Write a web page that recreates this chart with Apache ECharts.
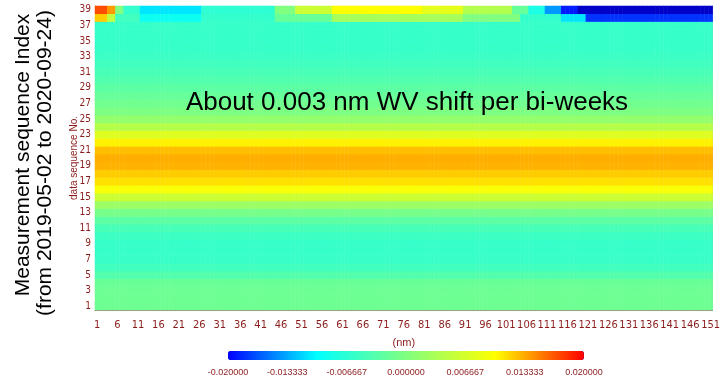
<!DOCTYPE html>
<html>
<head>
<meta charset="utf-8">
<script src="https://cdn.jsdelivr.net/npm/echarts@6/dist/echarts.min.js"></script>
<style>
html, body { margin: 0; padding: 0; background: #fff; }
#main { width: 723px; height: 381px; }
</style>
</head>
<body>
<div id="main"></div>
<script>
// axis categories: wavelength column no. (x) and data sequence no. (y)
var xCount = 151;
var yCount = 39;
var xCats = [];
for (var i = 1; i <= xCount; i++) xCats.push(String(i));
var yCats = [];
for (var j = 1; j <= yCount; j++) yCats.push(String(j));

// value of each row (1..39), same along x
var rowBase = [
  -0.0014, -0.0014, -0.0015, -0.0018, -0.0035, -0.0050, -0.0056, -0.0058, -0.0058, -0.0054,
  -0.0044, -0.0028, -0.0008, 0.0022, 0.0060, 0.0095, 0.0112, 0.0120, 0.0130, 0.0132,
  0.0125, 0.0105, 0.0075, 0.0042, 0.0015, -0.0002, -0.0012, -0.0020, -0.0028, -0.0036,
  -0.0044, -0.0050, -0.0054, -0.0056, -0.0058, -0.0058, -0.0058, -0.0060, -0.0060
];

// the two top rows change along x: [fromCol, toCol, value]
var row38 = [
  [1, 3, 0.012], [4, 5, 0.005], [6, 11, -0.005], [12, 26, -0.009], [27, 44, -0.006],
  [45, 58, -0.002], [59, 90, 0.003], [91, 104, 0.000], [105, 114, -0.006],
  [115, 120, -0.011], [121, 151, -0.018]
];
var row39 = [
  [1, 3, 0.017], [4, 5, 0.014], [6, 7, 0.000], [8, 11, -0.006], [12, 26, -0.011],
  [27, 44, -0.0065], [45, 49, 0.000], [50, 58, 0.006], [59, 80, 0.010], [81, 90, 0.008],
  [91, 102, 0.004], [103, 106, -0.002], [107, 110, -0.008], [111, 114, -0.014],
  [115, 118, -0.019], [119, 151, -0.025]
];

var barTicks = [-0.02, -0.013333, -0.006667, 0, 0.006667, 0.013333, 0.02];

function segValue(segs, col) {
  for (var k = 0; k < segs.length; k++) {
    if (col >= segs[k][0] && col <= segs[k][1]) return segs[k][2];
  }
  return null;
}

var data = [];
for (var r = 0; r < yCount; r++) {
  for (var c = 0; c < xCount; c++) {
    var v = rowBase[r];
    if (r === 37) v = segValue(row38, c + 1);
    if (r === 38) v = segValue(row39, c + 1);
    data.push([c, r, v]);
  }
}

var labelColor = '#8b1c1c';
var tickColor = '#9a5a3a';
var tickFont = '"DejaVu Sans Condensed", "Liberation Sans"';

// colour bar labels
var barLeft = 228, barLen = 356;
var barLabels = barTicks.map(function (t) {
  return {
    type: 'text',
    x: barLeft + (t - barTicks[0]) / (barTicks[6] - barTicks[0]) * barLen,
    y: 373,
    style: {
      text: t.toFixed(6), fill: labelColor, font: '9px "Liberation Sans"',
      textAlign: 'center', textVerticalAlign: 'middle'
    }
  };
});

var myChart = echarts.init(document.getElementById('main'));

myChart.setOption({
  animation: false,
  grid: { left: 95, right: 2, top: 6, bottom: 71 },
  xAxis: [
    {
      type: 'category',
      data: xCats,
      name: '(nm)',
      nameLocation: 'middle',
      nameGap: 27,
      nameMoveOverlap: false,
      nameTextStyle: { color: labelColor, fontSize: 11, fontFamily: 'Liberation Sans' },
      axisLine: { lineStyle: { color: '#a08878' } },
      axisTick: { inside: true, length: 4, interval: 4, alignWithLabel: true, lineStyle: { color: tickColor } },
      axisLabel: { interval: 4, margin: 10, color: labelColor, fontSize: 11, fontFamily: tickFont },
      splitLine: { show: false }
    },
    {
      type: 'category',
      data: xCats,
      position: 'top',
      axisLine: { show: false },
      axisTick: { inside: true, length: 3, interval: 4, alignWithLabel: true, lineStyle: { color: tickColor } },
      axisLabel: { show: false }
    }
  ],
  yAxis: [
    {
      type: 'category',
      data: yCats,
      name: 'data sequence No.',
      nameLocation: 'middle',
      nameGap: 16,
      nameMoveOverlap: false,
      nameTextStyle: { color: labelColor, fontSize: 10, fontFamily: 'Liberation Sans' },
      axisLine: { lineStyle: { color: '#a08878' } },
      axisTick: { inside: true, length: 5, interval: 1, alignWithLabel: true, lineStyle: { color: tickColor } },
      axisLabel: { interval: 1, margin: 4, color: labelColor, fontSize: 10, fontFamily: tickFont },
      splitLine: { show: false }
    },
    {
      type: 'category',
      data: yCats,
      position: 'right',
      axisLine: { lineStyle: { color: '#b0a8a0' } },
      axisTick: { inside: true, length: 8, interval: 1, alignWithLabel: true, lineStyle: { color: tickColor } },
      axisLabel: { show: false }
    }
  ],
  visualMap: {
    type: 'continuous',
    seriesIndex: 0,
    min: -0.02001,
    max: 0.02001,
    range: [-0.02, 0.02],
    orient: 'horizontal',
    left: barLeft,
    top: 351,
    padding: 0,
    itemWidth: 9,
    itemHeight: barLen,
    calculable: false,
    hoverLink: false,
    inRange: { color: ['#0000ff', '#00ffff', '#80ff80', '#ffff00', '#ff0000'] },
    outOfRange: { color: '#0000c8' }
  },
  graphic: [
    {
      type: 'text', x: 23, y: 155, rotation: Math.PI / 2,
      style: {
        text: 'Measurement sequence Index', fill: '#000', font: '21px "Liberation Sans"',
        textAlign: 'center', textVerticalAlign: 'middle'
      }
    },
    {
      type: 'text', x: 45, y: 163, rotation: Math.PI / 2,
      style: {
        text: '(from 2019-05-02 to 2020-09-24)', fill: '#000', font: '21px "Liberation Sans"',
        textAlign: 'center', textVerticalAlign: 'middle'
      }
    },
    {
      type: 'text', x: 407, y: 103, z: 100,
      style: {
        text: 'About 0.003 nm WV shift per bi-weeks', fill: '#000', font: '26px "Liberation Sans"',
        textAlign: 'center', textVerticalAlign: 'middle'
      }
    }
  ].concat(barLabels),
  series: [
    {
      type: 'heatmap',
      data: data,
      progressive: 0,
      emphasis: { disabled: true }
    }
  ]
});
</script>
</body>
</html>
